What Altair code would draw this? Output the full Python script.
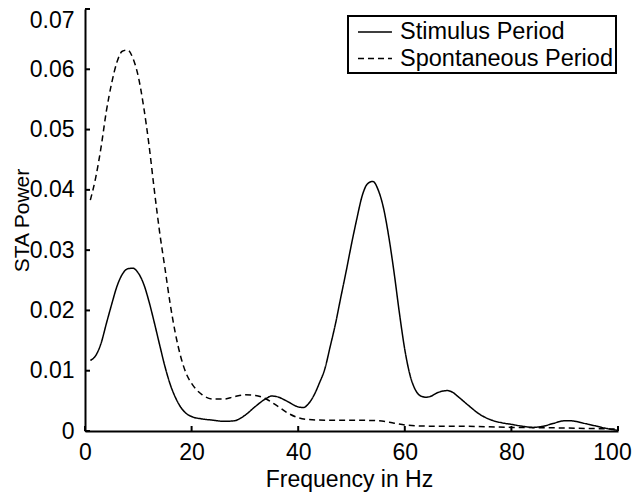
import altair as alt
import pandas as pd

# ---- data ----
STIM_FREQ = [1, 2, 3, 4, 5, 6, 7, 8, 9, 10, 11, 12, 13, 14, 15, 16, 17, 18, 19, 20,
             22, 24, 26, 28, 30, 32, 34, 35, 36, 38, 40, 41, 42, 43, 44, 45, 46, 47,
             48, 49, 50, 51, 52, 53, 54, 55, 56, 57, 58, 59, 60, 61, 62, 63, 64, 65,
             66, 67, 68, 69, 70, 72, 74, 76, 78, 80, 82, 84, 86, 88, 90, 91, 92, 94,
             96, 98, 100]
STIM_POWER = [0.0117, 0.0125, 0.0145, 0.0178, 0.0210, 0.0240, 0.0260, 0.0269, 0.0270,
              0.0262, 0.0244, 0.0215, 0.0180, 0.0143, 0.0107, 0.0077, 0.0055, 0.0039,
              0.0029, 0.0024, 0.0020, 0.0018, 0.0016, 0.0017, 0.0026, 0.0041, 0.0054,
              0.0058, 0.0057, 0.0049, 0.0040, 0.0039, 0.0046, 0.0060, 0.0080, 0.0103,
              0.0140, 0.0178, 0.0222, 0.0265, 0.0310, 0.0352, 0.0390, 0.0410, 0.0414,
              0.0400, 0.0370, 0.0322, 0.0262, 0.0195, 0.0135, 0.0092, 0.0068, 0.0058,
              0.0056, 0.0058, 0.0063, 0.0066, 0.0067, 0.0064, 0.0057, 0.0042, 0.0028,
              0.0019, 0.0014, 0.0011, 0.0008, 0.0006, 0.0008, 0.0013, 0.0017, 0.0017,
              0.0016, 0.0012, 0.0008, 0.0004, 0.0001]

SPON_FREQ = [1, 2, 3, 4, 5, 6, 7, 8, 9, 10, 11, 12, 13, 14, 15, 16, 17, 18, 19, 20,
             22, 24, 26, 28, 30, 32, 34, 36, 38, 40, 42, 45, 50, 55, 58, 60, 65, 70,
             80, 90, 100]
SPON_POWER = [0.0383, 0.0420, 0.0470, 0.0530, 0.0577, 0.0612, 0.0630, 0.0632, 0.0618,
              0.0588, 0.0538, 0.0475, 0.0400, 0.0330, 0.0270, 0.0210, 0.0160, 0.0122,
              0.0095, 0.0079, 0.0060, 0.0053, 0.0053, 0.0057, 0.0060, 0.0059, 0.0053,
              0.0042, 0.0030, 0.0022, 0.0019, 0.0018, 0.0018, 0.0017, 0.0013, 0.0010,
              0.0008, 0.0008, 0.0006, 0.0005, 0.0003]

SERIES = ["Stimulus Period", "Spontaneous Period"]
X_TICKS = [0, 20, 40, 60, 80, 100]
Y_TICKS = [0, 0.01, 0.02, 0.03, 0.04, 0.05, 0.06, 0.07]

FONT = "Liberation Sans"
W, H = 533, 422

df = pd.concat([
    pd.DataFrame({"freq": STIM_FREQ, "power": STIM_POWER, "series": SERIES[0]}),
    pd.DataFrame({"freq": SPON_FREQ, "power": SPON_POWER, "series": SERIES[1]}),
])

xscale = alt.Scale(domain=[0, 100], nice=False, zero=False)
yscale = alt.Scale(domain=[0, 0.07], nice=False)

lines = alt.Chart(df).mark_line(
    color="black", strokeWidth=1.5, interpolate="monotone"
).encode(
    x=alt.X("freq:Q", scale=xscale, axis=alt.Axis(
        title="Frequency in Hz", values=X_TICKS, ticks=False, grid=False,
        labelFlush=False, labelPadding=10,
        labelOffset=alt.condition("datum.value >= 100", alt.value(-6), alt.value(0)),
        titleX=264, titleY=55, titleBaseline="alphabetic")),
    y=alt.Y("power:Q", scale=yscale, axis=alt.Axis(
        title="STA Power", values=Y_TICKS, ticks=False, grid=False,
        labelFlush=False, labelPadding=11,
        labelBaseline=alt.condition("datum.value > 0.069", alt.value("top"),
                                    alt.value("middle")),
        labelExpr="datum.value == 0 ? '0' : format(datum.value, '.2f')",
        titleX=-74, titleY=211, titleAngle=-90, titleBaseline="top",
        titleAlign="center", titleFontSize=21)),
    strokeDash=alt.StrokeDash("series:N",
        scale=alt.Scale(domain=SERIES, range=[[1, 0], [6, 4]]),
        legend=alt.Legend(
            title=None, orient="none", legendX=263, legendY=7,
            symbolType="M-0.5,0H2.33", symbolSize=576, symbolStrokeWidth=1.5,
            symbolStrokeColor="black", symbolFillColor="transparent",
            labelFontSize=23.5, labelFont=FONT,
            labelLimit=400, labelOffset=23, padding=3, rowPadding=1.5,
            strokeColor="black")),
    order="freq:Q",
)

xt = pd.DataFrame({"x": X_TICKS})
yt = pd.DataFrame({"y": Y_TICKS})
xticks = alt.Chart(xt).mark_rule(color="black", strokeWidth=2).encode(
    x=alt.X("x:Q", scale=xscale), y=alt.value(H), y2=alt.value(H - 5))
yticks = alt.Chart(yt).mark_rule(color="black", strokeWidth=2).encode(
    y=alt.Y("y:Q", scale=yscale), x=alt.value(0), x2=alt.value(5))

chart = alt.layer(lines, xticks, yticks).properties(
    width=W, height=H,
    autosize=alt.AutoSizeParams(type="none"),
    padding={"left": 77, "top": 1, "right": 14, "bottom": 61},
).configure_view(stroke=None).configure_axis(
    domainColor="black", domainWidth=2, labelFont=FONT, titleFont=FONT,
    labelFontSize=23, titleFontSize=23, labelColor="black", titleColor="black",
    titleFontWeight="normal",
).configure_legend(strokeWidth=2)

chart.save("out.html", embed_options={"renderer": "svg", "actions": False})
